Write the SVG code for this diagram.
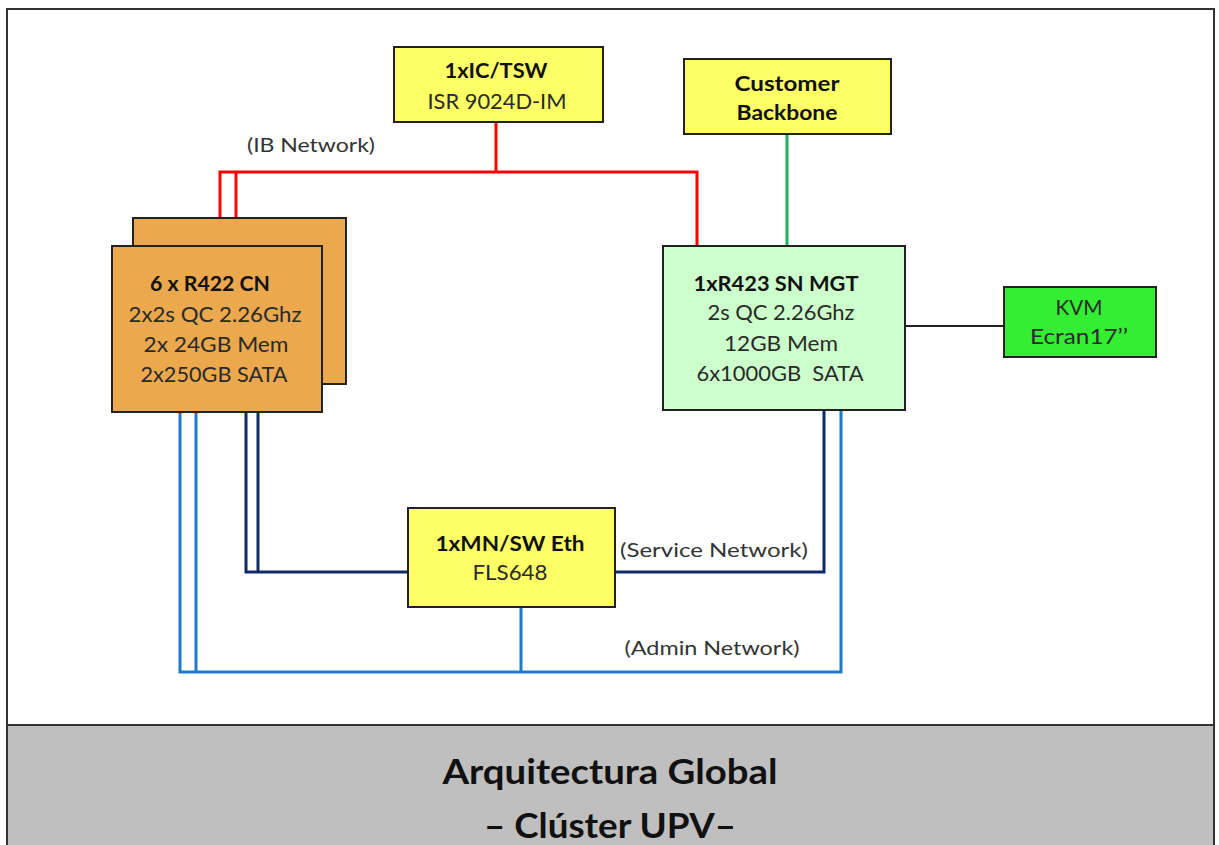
<svg xmlns="http://www.w3.org/2000/svg" width="1219" height="845" viewBox="0 0 1219 845">
<style>
.box{stroke:#222;stroke-width:2}
.t{font-family:Lato,"Open Sans",sans-serif;font-size:21px;fill:#2a2a2a;text-anchor:middle}
.b{font-weight:bold;fill:#111}
.lbl{font-family:Lato,"Open Sans",sans-serif;font-size:20px;fill:#333;text-anchor:middle}
.red{fill:none;stroke:#FF0000;stroke-width:3}
.navy{fill:none;stroke:#0F2A6B;stroke-width:3}
.blue{fill:none;stroke:#1F7ACC;stroke-width:3}
.title{font-family:Lato,"Open Sans",sans-serif;font-size:34px;font-weight:bold;fill:#111;text-anchor:middle}
</style>
<rect x="0" y="0" width="1219" height="845" fill="#fff"/>
<rect x="7" y="9" width="1207" height="850" fill="#fff" stroke="#333" stroke-width="2"/>
<rect x="7" y="725" width="1207" height="130" fill="#BFBFBF" stroke="#333" stroke-width="2"/>
<text class="title" x="610" y="784" textLength="335" lengthAdjust="spacingAndGlyphs">Arquitectura Global</text>
<text class="title" x="610" y="838" textLength="252" lengthAdjust="spacingAndGlyphs">– Clúster UPV–</text>

<g id="connectors">
<path class="red" d="M220,218 V172 H697 V246"/>
<path class="red" d="M236,218 V172"/>
<path class="red" d="M496,122 V172"/>
<path d="M787,134 V246" fill="none" stroke="#1DB060" stroke-width="3"/>
<path d="M905,326 H1004" fill="none" stroke="#222" stroke-width="2"/>
<path class="navy" d="M246,412 V572 H408"/>
<path class="navy" d="M258,412 V572"/>
<path class="navy" d="M615,572 H824 V410"/>
<path class="blue" d="M180,412 V672 H841 V410"/>
<path class="blue" d="M196,412 V672"/>
<path class="blue" d="M521,607 V672"/>
<text class="lbl" x="311" y="152" textLength="128" lengthAdjust="spacingAndGlyphs">(IB Network)</text>
<text class="lbl" x="714" y="557" textLength="188" lengthAdjust="spacingAndGlyphs">(Service Network)</text>
<text class="lbl" x="712" y="655" textLength="175" lengthAdjust="spacingAndGlyphs">(Admin Network)</text>
</g>

<g id="ictsw">
<rect class="box" x="394" y="47" width="209" height="75" fill="#FFFF66"/>
<text class="t b" x="496" y="78" textLength="103" lengthAdjust="spacingAndGlyphs">1xIC/TSW</text>
<text class="t" x="497" y="109" textLength="139" lengthAdjust="spacingAndGlyphs">ISR 9024D-IM</text>
</g>

<g id="backbone">
<rect class="box" x="684" y="59" width="207" height="75" fill="#FFFF66"/>
<text class="t b" x="787" y="91" textLength="105" lengthAdjust="spacingAndGlyphs">Customer</text>
<text class="t b" x="787" y="120" textLength="101" lengthAdjust="spacingAndGlyphs">Backbone</text>
</g>

<g id="cn">
<rect class="box" x="133" y="218" width="213" height="166" fill="#EBA84C"/>
<rect class="box" x="112" y="246" width="210" height="166" fill="#EBA84C"/>
<text class="t b" x="210" y="291" textLength="120" lengthAdjust="spacingAndGlyphs">6 x R422 CN</text>
<text class="t" x="215" y="322" textLength="173" lengthAdjust="spacingAndGlyphs">2x2s QC 2.26Ghz</text>
<text class="t" x="216" y="352" textLength="145" lengthAdjust="spacingAndGlyphs">2x 24GB Mem</text>
<text class="t" x="214" y="382" textLength="147" lengthAdjust="spacingAndGlyphs">2x250GB SATA</text>
</g>

<g id="sn">
<rect class="box" x="663" y="246" width="242" height="164" fill="#CCFFCC"/>
<text class="t b" x="776" y="291" textLength="165" lengthAdjust="spacingAndGlyphs">1xR423 SN MGT</text>
<text class="t" x="781" y="320" textLength="147" lengthAdjust="spacingAndGlyphs">2s QC 2.26Ghz</text>
<text class="t" x="781" y="351" textLength="114" lengthAdjust="spacingAndGlyphs">12GB Mem</text>
<text class="t" x="780" y="381" textLength="167" lengthAdjust="spacingAndGlyphs" xml:space="preserve">6x1000GB  SATA</text>
</g>

<g id="kvm">
<rect class="box" x="1004" y="287" width="152" height="70" fill="#33EE33"/>
<text class="t" x="1079" y="315" textLength="47" lengthAdjust="spacingAndGlyphs">KVM</text>
<text class="t" x="1079" y="344" textLength="98" lengthAdjust="spacingAndGlyphs">Ecran17’’</text>
</g>

<g id="mn">
<rect class="box" x="408" y="508" width="207" height="99" fill="#FFFF66"/>
<text class="t b" x="510" y="551" textLength="149" lengthAdjust="spacingAndGlyphs">1xMN/SW Eth</text>
<text class="t" x="510" y="580" textLength="75" lengthAdjust="spacingAndGlyphs">FLS648</text>
</g>
</svg>
